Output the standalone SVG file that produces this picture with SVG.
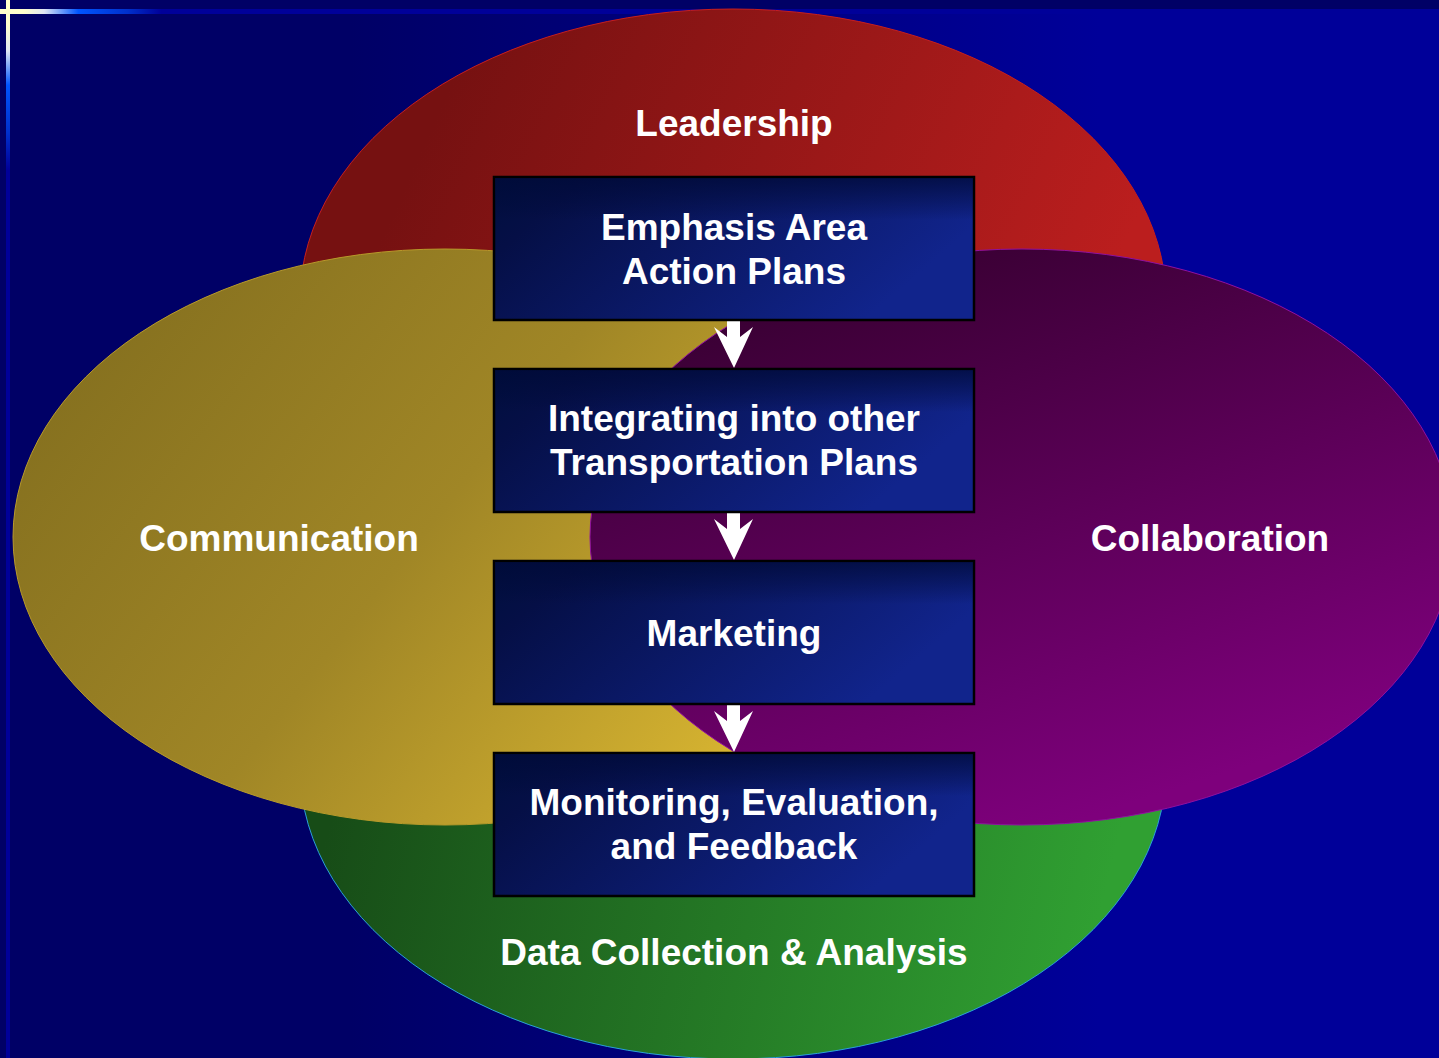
<svg xmlns="http://www.w3.org/2000/svg" width="1439" height="1058" viewBox="0 0 1439 1058">
<defs>
  <linearGradient id="bg" gradientUnits="userSpaceOnUse" x1="350" y1="0" x2="1100" y2="0">
    <stop offset="0" stop-color="#000066"/>
    <stop offset="1" stop-color="#000099"/>
  </linearGradient>
  <linearGradient id="hline" gradientUnits="userSpaceOnUse" x1="0" y1="0" x2="170" y2="0">
    <stop offset="0" stop-color="#ffffcc"/>
    <stop offset="0.14" stop-color="#ffffcc"/>
    <stop offset="0.26" stop-color="#dfe6f4"/>
    <stop offset="0.46" stop-color="#0055ff"/>
    <stop offset="0.75" stop-color="#0030cc"/>
    <stop offset="0.95" stop-color="#000099"/>
    <stop offset="1" stop-color="#000099"/>
  </linearGradient>
  <linearGradient id="vline" gradientUnits="userSpaceOnUse" x1="0" y1="0" x2="0" y2="170">
    <stop offset="0" stop-color="#ffffcc"/>
    <stop offset="0.14" stop-color="#ffffcc"/>
    <stop offset="0.3" stop-color="#dfe6f4"/>
    <stop offset="0.5" stop-color="#0055ff"/>
    <stop offset="0.78" stop-color="#0030cc"/>
    <stop offset="1" stop-color="#000099"/>
  </linearGradient>
  <linearGradient id="gRed" gradientUnits="userSpaceOnUse" x1="480" y1="20" x2="1100" y2="300">
    <stop offset="0" stop-color="#761111"/>
    <stop offset="1" stop-color="#bb1e1e"/>
  </linearGradient>
  <linearGradient id="gYellow" gradientUnits="userSpaceOnUse" x1="120" y1="280" x2="740" y2="770">
    <stop offset="0" stop-color="#85701f"/>
    <stop offset="0.5" stop-color="#a08626"/>
    <stop offset="1" stop-color="#d8b531"/>
  </linearGradient>
  <linearGradient id="gPurple" gradientUnits="userSpaceOnUse" x1="900" y1="260" x2="1080" y2="820">
    <stop offset="0" stop-color="#3a0034"/>
    <stop offset="1" stop-color="#7e007c"/>
  </linearGradient>
  <linearGradient id="gGreen" gradientUnits="userSpaceOnUse" x1="330" y1="820" x2="1080" y2="1000">
    <stop offset="0" stop-color="#174c17"/>
    <stop offset="1" stop-color="#30a032"/>
  </linearGradient>
  <linearGradient id="gBox" x1="0" y1="0" x2="1" y2="0.35">
    <stop offset="0" stop-color="#000f3e"/>
    <stop offset="0.17" stop-color="#050f46"/>
    <stop offset="1" stop-color="#11248c"/>
  </linearGradient>
  <linearGradient id="gBoxTop" x1="0" y1="0" x2="0" y2="1">
    <stop offset="0" stop-color="#000a38" stop-opacity="0.75"/>
    <stop offset="0.3" stop-color="#000a38" stop-opacity="0"/>
    <stop offset="1" stop-color="#000a38" stop-opacity="0"/>
  </linearGradient>
  <path id="arrow" d="M727,0 L740,0 L740,17 L753,7 L734,48 L714,7 L727,17 Z"/>
</defs>
<style>
  .lbl { font-family: "Liberation Sans", Arial, sans-serif; font-weight: bold; font-size: 37px; fill: #ffffff; text-anchor: middle; }
  .box { fill: url(#gBox); stroke: #000000; stroke-width: 2.5; }
  .boxshade { fill: url(#gBoxTop); }
  .arr { fill: #ffffff; }
</style>

<rect x="0" y="0" width="1439" height="1058" fill="url(#bg)"/>
<rect x="0" y="0" width="1439" height="9" fill="#000066"/>
<rect x="0" y="9" width="1439" height="5" fill="url(#hline)"/>
<rect x="6" y="0" width="4" height="1058" fill="url(#vline)"/>

<g id="leadership">
  <ellipse cx="733" cy="300" rx="433" ry="291" fill="url(#gRed)" stroke="#c81e1e" stroke-width="1"/>
  <text class="lbl" x="734" y="136">Leadership</text>
</g>
<g id="data-collection">
  <ellipse cx="733" cy="768" rx="433" ry="291" fill="url(#gGreen)" stroke="#2aa0d8" stroke-width="1"/>
</g>
<g id="communication">
  <ellipse cx="445" cy="537" rx="432" ry="288" fill="url(#gYellow)" stroke="#b89a2a" stroke-width="1"/>
  <text class="lbl" x="279" y="551">Communication</text>
</g>
<g id="collaboration">
  <ellipse cx="1022" cy="537" rx="432" ry="288" fill="url(#gPurple)" stroke="#9010a0" stroke-width="1"/>
  <text class="lbl" x="1210" y="551">Collaboration</text>
</g>
<text class="lbl" x="734" y="965">Data Collection &amp; Analysis</text>

<g id="connectors">
  <use href="#arrow" class="arr" transform="translate(0,320)"/>
  <use href="#arrow" class="arr" transform="translate(0,512)"/>
  <use href="#arrow" class="arr" transform="translate(0,704)"/>
</g>

<g id="box-emphasis">
  <rect class="box" x="494" y="177" width="480" height="143"/>
  <rect class="boxshade" x="495" y="178" width="478" height="141"/>
  <text class="lbl" x="734" y="240">Emphasis Area</text>
  <text class="lbl" x="734" y="284">Action Plans</text>
</g>
<g id="box-integrating">
  <rect class="box" x="494" y="369" width="480" height="143"/>
  <rect class="boxshade" x="495" y="370" width="478" height="141"/>
  <text class="lbl" x="734" y="431">Integrating into other</text>
  <text class="lbl" x="734" y="475">Transportation Plans</text>
</g>
<g id="box-marketing">
  <rect class="box" x="494" y="561" width="480" height="143"/>
  <rect class="boxshade" x="495" y="562" width="478" height="141"/>
  <text class="lbl" x="734" y="646">Marketing</text>
</g>
<g id="box-monitoring">
  <rect class="box" x="494" y="753" width="480" height="143"/>
  <rect class="boxshade" x="495" y="754" width="478" height="141"/>
  <text class="lbl" x="734" y="815">Monitoring, Evaluation,</text>
  <text class="lbl" x="734" y="859">and Feedback</text>
</g>
</svg>
